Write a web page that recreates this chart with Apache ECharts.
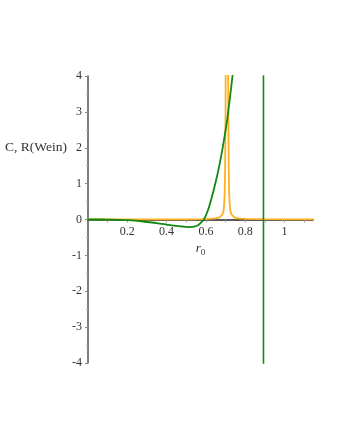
<!DOCTYPE html>
<html><head><meta charset="utf-8">
<script src="https://cdn.jsdelivr.net/npm/echarts@6/dist/echarts.min.js"></script>
<style>html,body{margin:0;padding:0;background:#fff}#c{width:339px;height:439px}</style>
</head><body><div id="c"></div>
<script>
// green curve C(r0)
const greenX = [0, 0.05, 0.1, 0.15, 0.2, 0.25, 0.3, 0.35, 0.4, 0.45, 0.48, 0.5, 0.52, 0.54, 0.56, 0.575, 0.59, 0.61, 0.63, 0.65, 0.67, 0.69, 0.71, 0.73, 0.75];
const greenY = [0, 0, -0.002, -0.01, -0.02, -0.04, -0.07, -0.1, -0.14, -0.18, -0.195, -0.205, -0.21, -0.2, -0.16, -0.09, 0, 0.25, 0.62, 1.05, 1.55, 2.15, 2.85, 3.75, 4.7];
// green vertical asymptote
const vertX = [0.893, 0.893];
const vertY = [-4.5, 4.5];
// orange curve R(Wein)
const orangeX = [0, 0.2, 0.4, 0.5, 0.6, 0.65, 0.67, 0.68, 0.685, 0.69, 0.693, 0.696, 0.698, 0.700, 0.701, 0.7071, 0.713, 0.714, 0.716, 0.718, 0.721, 0.724, 0.729, 0.734, 0.745, 0.765, 0.8, 0.9, 1.0, 1.145];
const orangeY = [0.003, 0.003, 0.004, 0.006, 0.012, 0.03, 0.06, 0.1, 0.15, 0.25, 0.42, 0.8, 1.5, 3.0, 5, 60, 5, 3.0, 1.5, 0.8, 0.42, 0.25, 0.15, 0.1, 0.06, 0.03, 0.015, 0.008, 0.005, 0.004];
const yTicks = [-4, -3, -2, -1, 0, 1, 2, 3, 4];
const xLabels = [0.2, 0.4, 0.6, 0.8, 1];

const zip = (a, b) => a.map((v, i) => [v, b[i]]);
const font = '"Liberation Serif", "DejaVu Serif", serif';
const W = 339, H = 439, GL = 88, GR = 26, GT = 76, GB = 76;
const chart = echarts.init(document.getElementById('c'));
const yMin = yTicks[0], yMax = yTicks[yTicks.length - 1];
// place the x axis on the y = 0 line
const xOffset = -((0 - yMin) / (yMax - yMin)) * (H - GT - GB);
chart.setOption({
  animation: false,
  grid: {left: GL, right: GR, top: GT, bottom: GB, containLabel: false},
  xAxis: {
    type: 'value', min: 0, max: 1.145, interval: 0.1,
    position: 'bottom', offset: xOffset,
    axisLine: {onZero: false, lineStyle: {color: '#222', width: 1.5}},
    axisTick: {show: true, inside: false, length: 3, lineStyle: {color: '#999'}},
    splitLine: {show: false},
    axisLabel: {
      fontFamily: font, fontSize: 12, color: '#333', margin: 6,
      showMinLabel: false, showMaxLabel: false,
      formatter: v => {
        const hit = xLabels.find(l => Math.abs(l - v) < 1e-6);
        return hit === undefined ? '' : String(hit);
      }
    },
    name: '{i|r}{s|0}', nameLocation: 'middle', nameGap: 20,
    nameTextStyle: {rich: {
      i: {fontFamily: font, fontStyle: 'italic', fontSize: 13, color: '#333'},
      s: {fontFamily: font, fontSize: 9, color: '#333', padding: [8, 0, 0, 0]}
    }}
  },
  yAxis: {
    type: 'value', min: yMin, max: yMax, interval: 1,
    axisLine: {onZero: false, lineStyle: {color: '#555', width: 1.5}},
    axisTick: {show: true, length: 3, lineStyle: {color: '#888'}},
    minorTick: {show: true, splitNumber: 2, length: 2, lineStyle: {color: '#aaa'}},
    splitLine: {show: false},
    axisLabel: {fontFamily: font, fontSize: 12, color: '#333', margin: 6}
  },
  graphic: [{
    type: 'text', left: 5, top: 140,
    style: {text: 'C, R(Wein)', font: '13.5px ' + font, fill: '#333'}
  }],
  series: [
    {type: 'line', data: zip(orangeX, orangeY), showSymbol: false, clip: true,
     lineStyle: {color: '#ffb020', width: 1.8}, z: 3},
    {type: 'line', data: zip(greenX, greenY), showSymbol: false, smooth: 0.2, clip: true,
     lineStyle: {color: '#108a10', width: 1.8}, z: 4},
    {type: 'line', data: zip(vertX, vertY), showSymbol: false, clip: true,
     lineStyle: {color: '#108a10', width: 1.6}, z: 4}
  ]
});
</script></body></html>
